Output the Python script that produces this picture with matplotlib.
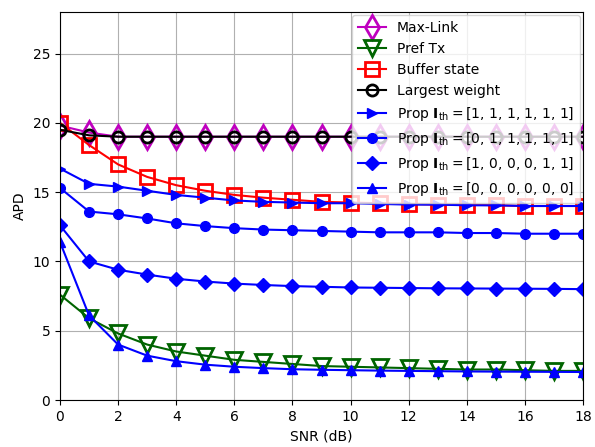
import matplotlib
matplotlib.use("Agg")
import matplotlib.pyplot as plt
import numpy as np

snr = list(range(0, 19))

max_link = [19.8, 19.3, 19.0, 19.0, 19.0, 19.0, 19.0, 19.0, 19.0, 19.0,
            19.0, 19.0, 19.0, 19.0, 19.0, 19.0, 19.0, 19.0, 19.0]
pref_tx = [7.6, 5.9, 4.8, 4.0, 3.5, 3.2, 2.9, 2.75, 2.6, 2.45,
           2.4, 2.35, 2.3, 2.25, 2.2, 2.2, 2.15, 2.1, 2.1]
buffer_state = [20.0, 18.4, 17.0, 16.1, 15.5, 15.1, 14.8, 14.6, 14.45, 14.3,
                14.25, 14.2, 14.15, 14.1, 14.1, 14.05, 14.0, 14.0, 14.0]
largest_weight = [19.5, 19.1, 19.0, 19.0, 19.0, 19.0, 19.0, 19.0, 19.0, 19.0,
                  19.0, 19.0, 19.0, 19.0, 19.0, 19.0, 19.0, 19.0, 19.0]
prop_111111 = [16.7, 15.6, 15.4, 15.1, 14.8, 14.6, 14.4, 14.3, 14.25, 14.2,
               14.2, 14.15, 14.1, 14.1, 14.05, 14.05, 14.0, 14.0, 14.0]
prop_011111 = [15.3, 13.6, 13.4, 13.1, 12.75, 12.55, 12.4, 12.3, 12.25, 12.2,
               12.15, 12.1, 12.1, 12.1, 12.05, 12.05, 12.0, 12.0, 12.0]
prop_100011 = [12.6, 10.0, 9.4, 9.05, 8.75, 8.55, 8.4, 8.3, 8.22, 8.17,
               8.12, 8.1, 8.08, 8.06, 8.05, 8.04, 8.03, 8.02, 8.0]
prop_000000 = [11.4, 6.1, 4.0, 3.2, 2.8, 2.55, 2.4, 2.3, 2.22, 2.18,
               2.15, 2.12, 2.1, 2.08, 2.06, 2.05, 2.04, 2.03, 2.02]

labels = ["Max-Link", "Pref Tx", "Buffer state", "Largest weight",
          r"Prop $\mathbf{I}_{\rm th}=$[1, 1, 1, 1, 1, 1]",
          r"Prop $\mathbf{I}_{\rm th}=$[0, 1, 1, 1, 1, 1]",
          r"Prop $\mathbf{I}_{\rm th}=$[1, 0, 0, 0, 1, 1]",
          r"Prop $\mathbf{I}_{\rm th}=$[0, 0, 0, 0, 0, 0]"]

fig = plt.figure(figsize=(5.95, 4.47), dpi=100)
ax = fig.add_axes([60/595, 1 - 400/447, 523/595, 388/447])

ax.plot(snr, max_link, color='m', marker='d', markersize=12, mew=2,
        mfc='none', lw=1.5, label=labels[0])
ax.plot(snr, pref_tx, color='darkgreen', marker='v', markersize=11, mew=2,
        mfc='none', lw=1.5, label=labels[1])
ax.plot(snr, buffer_state, color='r', marker='s', markersize=10, mew=2,
        mfc='none', lw=1.5, label=labels[2])
ax.plot(snr, largest_weight, color='k', marker='o', markersize=8, mew=2,
        mfc='none', lw=1.5, label=labels[3])
ax.plot(snr, prop_111111, color='b', marker='>', markersize=7, lw=1.5, label=labels[4])
ax.plot(snr, prop_011111, color='b', marker='o', markersize=7, lw=1.5, label=labels[5])
ax.plot(snr, prop_100011, color='b', marker='D', markersize=7, lw=1.5, label=labels[6])
ax.plot(snr, prop_000000, color='b', marker='^', markersize=7, lw=1.5, label=labels[7])

ax.set_xlim(0, 18)
ax.set_ylim(0, 28)
ax.set_xticks(range(0, 19, 2))
ax.set_yticks([0, 5, 10, 15, 20, 25])
ax.grid(True, color='#b0b0b0', lw=0.8)
ax.set_xlabel("SNR (dB)")
ax.set_ylabel("APD")
ax.legend(loc='upper right', fontsize=10, borderaxespad=0.25)

fig.savefig("out.png", dpi=100)
